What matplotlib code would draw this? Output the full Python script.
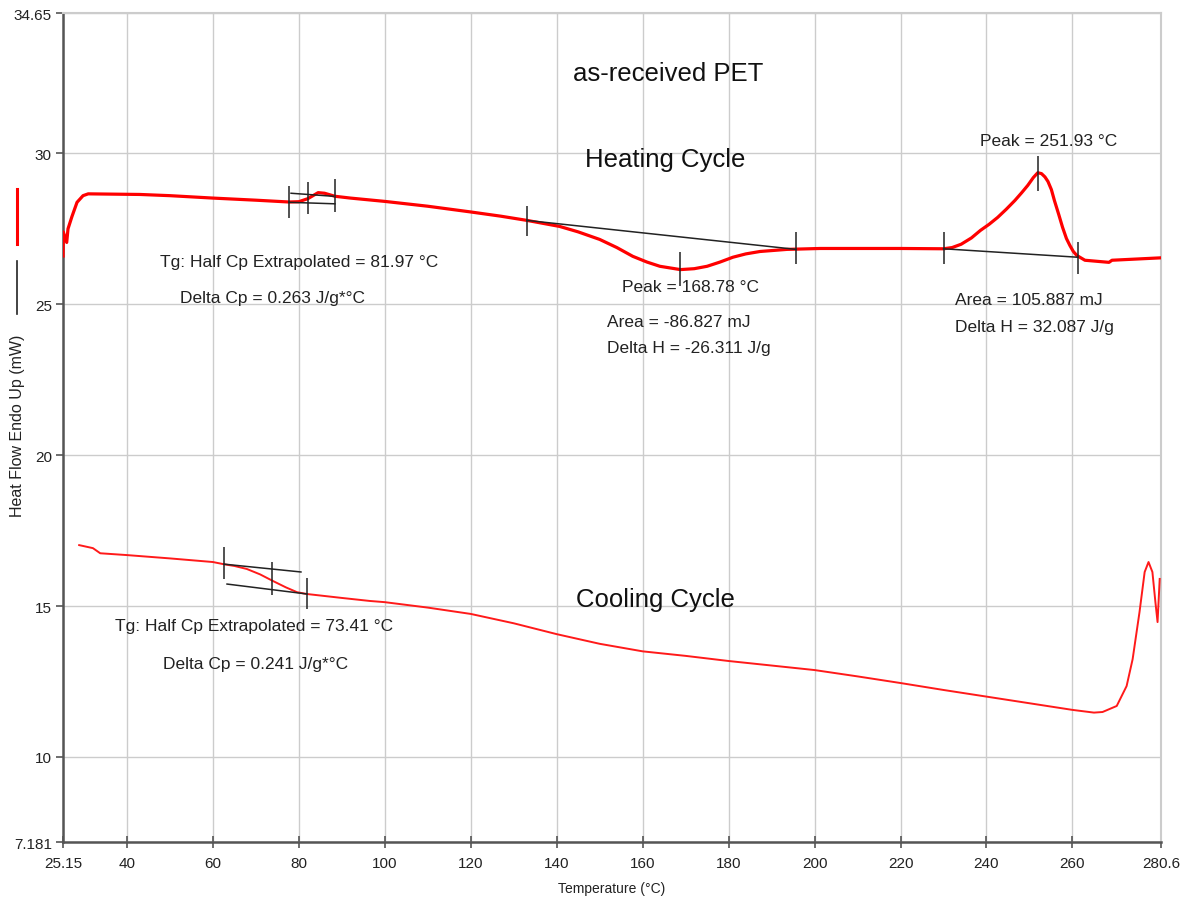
import matplotlib
matplotlib.use("Agg")
import matplotlib.pyplot as plt
from matplotlib.lines import Line2D

plt.rcParams['font.family'] = ['Liberation Sans', 'DejaVu Sans']

# ---------------- data ----------------
heat_T = [25.15, 25.2, 26.0, 26.3, 27.2, 28.4, 29.8, 31.0, 43.0, 50.0, 60.0, 70.0,
          77.7, 80.0, 82.1, 84.5, 86.0, 88.4, 92.0, 100.0, 110.0, 120.0, 127.0,
          133.1, 140.7, 145.0, 150.0, 154.0, 157.7, 161.0, 164.0, 168.78, 172.0,
          175.0, 178.0, 181.0, 184.0, 187.3, 193.6, 201.3, 210.0, 220.0, 230.0,
          232.0, 234.1, 236.5, 238.6, 240.6, 242.6, 244.6, 246.6, 248.2, 249.6,
          250.9, 251.93, 252.8, 253.6, 254.3, 255.1, 255.8, 256.8, 257.7, 258.6,
          259.4, 260.2, 261.0, 262.9, 268.5, 269.2, 280.6]
heat_V = [26.6, 27.4, 27.05, 27.5, 27.9, 28.38, 28.6, 28.66, 28.64, 28.6, 28.52, 28.45,
          28.39, 28.4, 28.5, 28.7, 28.68, 28.58, 28.52, 28.41, 28.25, 28.06, 27.92,
          27.78, 27.58, 27.4, 27.15, 26.88, 26.59, 26.4, 26.26, 26.15, 26.18,
          26.26, 26.4, 26.56, 26.67, 26.75, 26.82, 26.85, 26.85, 26.85, 26.84,
          26.88, 26.99, 27.2, 27.45, 27.65, 27.88, 28.15, 28.44, 28.7, 28.94,
          29.2, 29.36, 29.33, 29.22, 29.07, 28.8, 28.44, 27.98, 27.55, 27.18,
          26.95, 26.75, 26.62, 26.46, 26.39, 26.46, 26.54]

cool_T = [28.9, 30.5, 32.1, 33.8, 40.0, 50.0, 60.0, 62.8, 65.0, 67.9, 71.0, 74.0,
          77.0, 79.6, 81.9, 90.0, 96.5, 100.0, 110.0, 120.0, 130.0, 140.0, 150.0,
          160.0, 170.0, 180.0, 190.0, 200.0, 210.0, 220.0, 230.0, 240.0, 250.0,
          260.0, 265.0, 267.0, 270.3, 272.6, 274.0, 275.6, 276.8, 277.7, 278.6,
          279.3, 279.8, 280.3]
cool_V = [17.02, 16.97, 16.92, 16.75, 16.69, 16.58, 16.46, 16.38, 16.33, 16.23, 16.05,
          15.83, 15.62, 15.46, 15.4, 15.27, 15.17, 15.13, 14.95, 14.74, 14.43, 14.07,
          13.75, 13.5, 13.35, 13.18, 13.03, 12.88, 12.67, 12.45, 12.22, 12.0, 11.78,
          11.56, 11.47, 11.49, 11.69, 12.35, 13.24, 14.8, 16.13, 16.46, 16.13, 15.13,
          14.47, 15.9]

# analysis baselines: (T0, V0, T1, V1)
baseline_segments = [
    (78.2, 28.68, 88.0, 28.58),    # heating Tg upper
    (77.7, 28.38, 88.4, 28.33),    # heating Tg lower
    (133.1, 27.78, 195.7, 26.82),  # cold crystallisation baseline
    (230.0, 26.84, 261.2, 26.56),  # melting baseline
    (62.6, 16.39, 80.5, 16.13),    # cooling Tg upper
    (63.3, 15.73, 81.9, 15.40),    # cooling Tg lower
]
# analysis markers: (T, Vlow, Vhigh)
marker_T = [77.7, 82.1, 88.4, 133.1, 168.78, 195.7, 230.0, 251.93, 261.2, 62.6, 73.8, 81.9]
marker_lo = [27.85, 27.98, 28.05, 27.25, 25.6, 26.32, 26.32, 28.77, 25.99, 15.89, 15.36, 14.9]
marker_hi = [28.91, 29.04, 29.14, 28.25, 26.72, 27.38, 27.38, 29.9, 27.05, 16.95, 16.46, 15.93]

x_ticks = [25.15, 40, 60, 80, 100, 120, 140, 160, 180, 200, 220, 240, 260, 280.6]
x_labels = ["25.15", "40", "60", "80", "100", "120", "140", "160", "180", "200",
            "220", "240", "260", "280.6"]
y_ticks = [7.181, 10, 15, 20, 25, 30, 34.65]
y_labels = ["7.181", "10", "15", "20", "25", "30", "34.65"]

annotations = [
    ("Tg: Half Cp Extrapolated = 81.97 °C", 47.7, 26.42),
    ("Delta Cp = 0.263 J/g*°C", 52.4, 25.23),
    ("Peak = 168.78 °C", 155.2, 25.6),
    ("Area = -86.827 mJ", 151.7, 24.44),
    ("Delta H = -26.311 J/g", 151.7, 23.58),
    ("Peak = 251.93 °C", 238.5, 30.43),
    ("Area = 105.887 mJ", 232.7, 25.17),
    ("Delta H = 32.087 J/g", 232.7, 24.27),
    ("Tg: Half Cp Extrapolated = 73.41 °C", 37.2, 14.37),
    ("Delta Cp = 0.241 J/g*°C", 48.4, 13.11),
]
titles = [
    ("as-received PET", 165.9, 32.68),
    ("Heating Cycle", 165.2, 29.8),
    ("Cooling Cycle", 162.9, 15.23),
]

# ---------------- figure ----------------
fig = plt.figure(figsize=(11.83, 9.03), dpi=100)
ax = fig.add_axes([0.0533, 0.0664, 0.9281, 0.918])
ax.set_xlim(25.15, 280.6)
ax.set_ylim(7.181, 34.65)

ax.set_xticks(x_ticks)
ax.set_xticklabels(x_labels)
ax.set_yticks(y_ticks)
ax.set_yticklabels(y_labels)
ax.grid(True, color='#cccccc', linewidth=1.0)
ax.set_axisbelow(True)

for s in ['top', 'right']:
    ax.spines[s].set_color('#cccccc')
    ax.spines[s].set_linewidth(1.5)
for s in ['left', 'bottom']:
    ax.spines[s].set_color('#555555')
    ax.spines[s].set_linewidth(1.8)

ax.tick_params(axis='x', direction='inout', length=8, width=1.2, colors='#555555',
               labelcolor='#222222', labelsize=11, pad=6)
ax.tick_params(axis='y', direction='out', length=5, width=1.2, colors='#555555',
               labelcolor='#222222', labelsize=11, pad=3)

# curves
ax.plot(cool_T, cool_V, color='#ff1a1a', linewidth=1.4, zorder=3)
ax.plot(heat_T, heat_V, color='#ff0000', linewidth=2.3, zorder=3)

# baselines and markers
for (t0, v0, t1, v1) in baseline_segments:
    ax.plot([t0, t1], [v0, v1], color='#222222', linewidth=1.1, zorder=4)
ax.vlines(marker_T, marker_lo, marker_hi, color='#222222', linewidth=1.1, zorder=4)

for txt, t, v in annotations:
    ax.text(t, v, txt, fontsize=12.5, color='#222222', ha='left', va='center', zorder=5)
for txt, t, v in titles:
    ax.text(t, v, txt, fontsize=18.5, color='#111111', ha='center', va='center', zorder=5)

ax.set_xlabel("Temperature (°C)", fontsize=10, color='#222222', labelpad=4)
ax.xaxis.set_label_coords(0.5, -0.047)

# y label with legend-style line markers
fig.text(0.0152, 0.529, "Heat Flow Endo Up (mW)", rotation=90, fontsize=11.5,
         color='#222222', ha='center', va='center')
fig.add_artist(Line2D([0.0144, 0.0144], [1 - 245 / 903, 1 - 190 / 903],
                      color='#ff0000', linewidth=2.2, transform=fig.transFigure))
fig.add_artist(Line2D([0.0144, 0.0144], [1 - 315 / 903, 1 - 262 / 903],
                      color='#222222', linewidth=1.2, transform=fig.transFigure))

fig.savefig("out.png", dpi=100)
